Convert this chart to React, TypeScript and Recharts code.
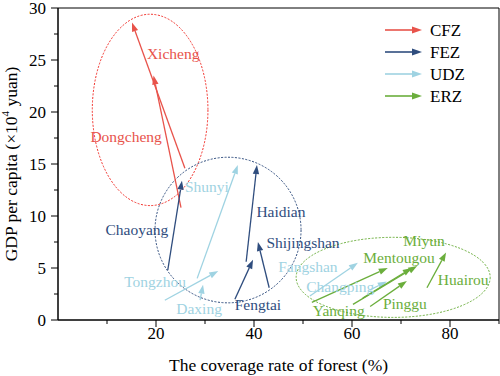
import React from 'react';
import { ComposedChart, XAxis, YAxis, Scatter, ReferenceLine, ReferenceArea, Legend } from 'recharts';

// zones
const zones = ['CFZ', 'FEZ', 'UDZ', 'ERZ'];
const zoneColors = ['#E8534B', '#2F4D7E', '#9FD3E2', '#6BAE3C'];
const ellipseColors = ['#F2302A', '#2F4D7E', '#9FD3E2', '#6BAE3C'];

// districts, arrow from start (forest, gdp) to end (forest, gdp)
const districts = ['Xicheng', 'Dongcheng', 'Chaoyang', 'Haidian', 'Fengtai', 'Shijingshan', 'Shunyi', 'Tongzhou', 'Daxing', 'Fangshan', 'Changping', 'Yanqing', 'Mentougou', 'Miyun', 'Pinggu', 'Huairou'];
const districtZone = [0, 0, 1, 1, 1, 1, 2, 2, 2, 2, 2, 3, 3, 3, 3, 3];
const forestStart = [25.9, 25.1, 22.4, 38.4, 36.1, 43.1, 28.4, 21.8, 29.0, 51.4, 63.7, 51.8, 60.2, 62.2, 63.7, 75.3];
const gdpStart = [14.6, 10.8, 4.8, 5.6, 2.0, 3.1, 4.0, 1.9, 1.9, 2.3, 2.9, 1.7, 1.5, 2.1, 1.3, 3.1];
const forestEnd = [15.1, 19.5, 25.3, 40.6, 39.8, 40.8, 36.7, 32.7, 29.6, 61.2, 67.1, 67.3, 73.3, 72.2, 71.2, 79.2];
const gdpEnd = [28.6, 23.5, 13.4, 14.9, 5.8, 7.5, 14.9, 4.7, 3.4, 5.5, 3.7, 5.0, 5.2, 5.0, 3.75, 6.5];

// label anchors
const labelX = [23.5, 13.9, 16.1, 45.5, 40.8, 50.0, 30.4, 19.8, 28.8, 51.0, 57.6, 57.3, 69.6, 74.7, 70.8, 82.7];
const labelY = [25.6, 17.6, 8.75, 10.4, 1.5, 7.5, 12.8, 3.75, 1.15, 5.1, 3.2, 0.95, 6.05, 7.6, 1.55, 3.85];

// zone ellipses (centre and radii in data units)
const ellipseCx = [18.8, 34.7, 68.4];
const ellipseCy = [20.2, 8.65, 4.1];
const ellipseRx = [11.8, 14.9, 19.8];
const ellipseRy = [9.2, 7.0, 3.85];
const ellipseZone = [0, 1, 3];

const xTicks = [0, 10, 20, 30, 40, 50, 60, 70, 80, 90];
const yTicks = [0, 2.5, 5, 7.5, 10, 12.5, 15, 17.5, 20, 22.5, 25, 27.5, 30];

const FONT = '"Liberation Serif", "Times New Roman", serif';

const labels = districts.map((name, i) => ({
  name,
  x: labelX[i],
  y: labelY[i],
  color: zoneColors[districtZone[i]],
}));

const arrowHead = (x1: number, y1: number, x2: number, y2: number, len: number, half: number) => {
  const a = Math.atan2(y2 - y1, x2 - x1);
  const c = Math.cos(a);
  const s = Math.sin(a);
  const bx = x2 - len * c;
  const by = y2 - len * s;
  return {
    bx,
    by,
    points: `${x2},${y2} ${bx - half * s},${by + half * c} ${bx + half * s},${by - half * c}`,
  };
};

const makeArrow = (color: string) => (props: any) => {
  const { x1, y1, x2, y2 } = props;
  if ([x1, y1, x2, y2].some((v) => typeof v !== 'number' || isNaN(v))) return <g />;
  const h = arrowHead(x1, y1, x2, y2, 9, 3.2);
  return (
    <g>
      <line x1={x1} y1={y1} x2={h.bx} y2={h.by} stroke={color} strokeWidth={1.3} />
      <polygon points={h.points} fill={color} />
    </g>
  );
};

const makeEllipse = (color: string) => (props: any) => {
  const { x, y, width, height } = props;
  return (
    <ellipse
      cx={x + width / 2}
      cy={y + height / 2}
      rx={Math.abs(width) / 2}
      ry={Math.abs(height) / 2}
      fill="none"
      stroke={color}
      strokeWidth={1}
      strokeDasharray="2 1.5"
    />
  );
};

const LabelShape = (props: any) => {
  const { cx, cy, payload } = props;
  return (
    <text x={cx} y={cy} textAnchor="middle" dominantBaseline="central" fill={payload.color} fontSize={15.5} fontFamily={FONT}>
      {payload.name}
    </text>
  );
};

const XTick = (props: any) => {
  const { x, y, payload } = props;
  const v = payload.value;
  const major = v > 0 && v % 20 === 0;
  return (
    <g>
      {v > 0 && <line x1={x} x2={x} y1={y} y2={y + (major ? 7 : 4)} stroke="#000" strokeWidth={1} />}
      {major && (
        <text x={x} y={y + 19} textAnchor="middle" fontSize={17} fontFamily={FONT} fill="#000">
          {v}
        </text>
      )}
    </g>
  );
};

const YTick = (props: any) => {
  const { x, y, payload } = props;
  const v = payload.value;
  const major = v % 5 === 0;
  return (
    <g>
      <line x1={x} x2={x - (major ? 7 : 4)} y1={y} y2={y} stroke="#000" strokeWidth={1} />
      {major && (
        <text x={x - 12} y={y} dy="0.35em" textAnchor="end" fontSize={17} fontFamily={FONT} fill="#000">
          {v}
        </text>
      )}
    </g>
  );
};

const LegendBox = () => (
  <svg width={110} height={90}>
    {zones.map((z, i) => {
      const y = 12 + i * 22;
      const h = arrowHead(5, y, 42, y, 10, 3.5);
      return (
        <g key={z}>
          <line x1={5} y1={y} x2={h.bx} y2={y} stroke={zoneColors[i]} strokeWidth={1.6} />
          <polygon points={h.points} fill={zoneColors[i]} />
          <text x={50} y={y} dy="0.35em" fontSize={17} fontFamily={FONT} fill="#000">
            {z}
          </text>
        </g>
      );
    })}
  </svg>
);

export default function App() {
  return (
    <div style={{ position: 'absolute', left: 0, top: 0, background: '#fff' }}>
      <ComposedChart width={500} height={376} margin={{ top: 8, right: 1, bottom: 0, left: 0 }} data={labels}>
        <XAxis
          dataKey="x"
          type="number"
          domain={[0, 90]}
          ticks={xTicks}
          interval={0}
          height={56}
          tickSize={0}
          tickMargin={0}
          tick={<XTick />}
          axisLine={{ stroke: '#000' }}
          label={{
            content: (p: any) => {
              const vb = p.viewBox;
              return (
                <text x={vb.x + vb.width / 2} y={365} textAnchor="middle" dominantBaseline="central" fontSize={17.5} fontFamily={FONT} fill="#000">
                  The coverage rate of forest (%)
                </text>
              );
            },
          }}
        />
        <YAxis
          dataKey="y"
          type="number"
          domain={[0, 30]}
          ticks={yTicks}
          interval={0}
          width={58}
          tickSize={0}
          tickMargin={0}
          tick={<YTick />}
          axisLine={{ stroke: '#000' }}
          label={{
            content: (p: any) => {
              const vb = p.viewBox;
              const cy = vb.y + vb.height / 2;
              return (
                <text
                  x={11}
                  y={cy}
                  transform={`rotate(-90 11 ${cy})`}
                  textAnchor="middle"
                  dominantBaseline="central"
                  fontSize={17.5}
                  fontFamily={FONT}
                  fill="#000"
                >
                  GDP per capita (×10
                  <tspan fontSize={11} dy={-6}>4</tspan>
                  <tspan dy={6}> yuan)</tspan>
                </text>
              );
            },
          }}
        />
        <ReferenceArea x1={0} x2={90} y1={0} y2={30} fill="none" stroke="#000" strokeWidth={1} fillOpacity={0} />
        {ellipseCx.map((cx, i) => (
          <ReferenceArea
            key={'e' + i}
            x1={cx - ellipseRx[i]}
            x2={cx + ellipseRx[i]}
            y1={ellipseCy[i] - ellipseRy[i]}
            y2={ellipseCy[i] + ellipseRy[i]}
            shape={makeEllipse(ellipseColors[ellipseZone[i]])}
          />
        ))}
        {districts.map((d, i) => (
          <ReferenceLine
            key={d}
            segment={[
              { x: forestStart[i], y: gdpStart[i] },
              { x: forestEnd[i], y: gdpEnd[i] },
            ]}
            shape={makeArrow(zoneColors[districtZone[i]])}
          />
        ))}
        <Scatter data={labels} dataKey="y" shape={<LabelShape />} isAnimationActive={false} />
        <Legend
          layout="vertical"
          align="center"
          verticalAlign="middle"
          content={<LegendBox />}
          wrapperStyle={{ position: 'absolute', left: 380, top: 18, width: 110 }}
        />
      </ComposedChart>
    </div>
  );
}
